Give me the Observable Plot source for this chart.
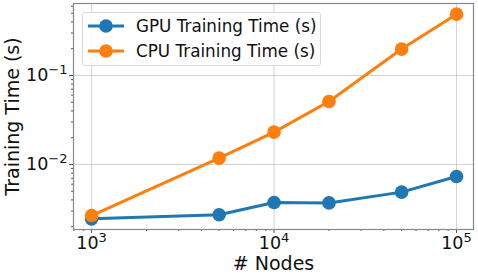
<!DOCTYPE html>
<html><head><meta charset="utf-8">
<script src="https://cdn.jsdelivr.net/npm/d3@7"></script>
<script src="https://cdn.jsdelivr.net/npm/@observablehq/plot@0.6"></script>
<style>
body{margin:0;background:#fff;font-family:"DejaVu Sans",sans-serif;}
#wrap{position:relative;width:478px;height:276px;}
#legend{position:absolute;left:82px;top:12px;width:239px;height:54px;border:1px solid #d8d8d8;border-radius:3px;background:rgba(255,255,255,0.85);box-sizing:border-box;font-size:16.8px;color:#111;}
.row{position:absolute;left:4px;height:20px;display:flex;align-items:center;white-space:nowrap;}
.row svg{margin-right:11px;}
</style></head><body>
<div id="wrap"></div>
<script>
const nodes = [1000, 5000, 10000, 20000, 50000, 100000];
const gpuTime = [0.00245, 0.00272, 0.00374, 0.0037, 0.00489, 0.00733];
const cpuTime = [0.00267, 0.0118, 0.0231, 0.051, 0.198, 0.489];
const seriesNames = ["GPU Training Time (s)", "CPU Training Time (s)"];
const seriesColors = ["#1f77b4", "#ff7f0e"];
const xTicks = [1e3, 1e4, 1e5];
const xTickExp = ["3", "4", "5"];
const yTicks = [1e-2, 1e-1];
const yTickExp = ["−2", "−1"];

const rows = [];
nodes.forEach((n, i) => {
  rows.push({series: seriesNames[0], n, t: gpuTime[i]});
  rows.push({series: seriesNames[1], n, t: cpuTime[i]});
});
const xMinor = [];
for (let d = 100; d <= 1e5; d *= 10) for (let k = 2; k <= 9; k++) { const v = d * k; if (v > 796 && v < 123900) xMinor.push(v); }
const yMinor = [];
for (let d = 0.001; d <= 0.1; d *= 10) for (let k = 2; k <= 9; k++) { const v = d * k; if (v > 0.00186 && v < 0.644) yMinor.push(v); }

const color = {domain: seriesNames, range: seriesColors};
const chart = Plot.plot({
  width: 478, height: 276,
  marginLeft: 73, marginRight: 5, marginTop: 3, marginBottom: 47,
  style: {fontFamily: "DejaVu Sans", fontSize: "17px", color: "#111", background: "#fff"},
  x: {type: "log", domain: [796, 123900]},
  y: {type: "log", domain: [0.00186, 0.644]},
  color,
  marks: [
    Plot.gridX(xTicks, {stroke: "#b0b0b0", strokeOpacity: 0.7, strokeWidth: 0.8}),
    Plot.gridY(yTicks, {stroke: "#b0b0b0", strokeOpacity: 0.7, strokeWidth: 0.8}),
    Plot.axisX(xMinor, {tickSize: 2, tickFormat: () => "", stroke: "#555", label: null}),
    Plot.axisY(yMinor, {tickSize: 2, tickFormat: () => "", stroke: "#555", label: null}),
    Plot.axisX(xTicks, {tickSize: 4, tickPadding: 3, stroke: "#555", fontSize: 17.5,
      tickFormat: d => "10^" + xTickExp[xTicks.indexOf(d)], label: "# Nodes", labelAnchor: "center", labelArrow: "none", labelOffset: 40}),
    Plot.axisY(yTicks, {tickSize: 4, tickPadding: 2, stroke: "#555", fontSize: 17.5,
      tickFormat: d => "10^" + yTickExp[yTicks.indexOf(d)], label: "Training Time (s)", labelAnchor: "center", labelArrow: "none", labelOffset: 68}),
    Plot.frame({stroke: "#888", strokeWidth: 1.2}),
    Plot.line(rows, {x: "n", y: "t", z: "series", stroke: "series", strokeWidth: 3}),
    Plot.dot(rows, {x: "n", y: "t", fill: "series", r: 6.8})
  ]
});
chart.querySelectorAll('[aria-label="x-axis label"] text, [aria-label="y-axis label"] text').forEach(t => t.setAttribute("font-size", "19"));
// render superscript exponents
chart.querySelectorAll('[aria-label="x-axis tick label"] text, [aria-label="y-axis tick label"] text').forEach(t => {
  const s = t.textContent;
  if (!s.includes("^")) return;
  const [base, exp] = s.split("^");
  t.textContent = "";
  const b = document.createElementNS("http://www.w3.org/2000/svg", "tspan");
  b.textContent = base;
  const e = document.createElementNS("http://www.w3.org/2000/svg", "tspan");
  e.textContent = exp;
  e.setAttribute("font-size", "13");
  e.setAttribute("dy", "-0.55em");
  t.appendChild(b); t.appendChild(e);
});
const wrap = document.getElementById("wrap");
wrap.appendChild(chart);

const legend = document.createElement("div");
legend.id = "legend";
seriesNames.forEach((name, i) => {
  const row = document.createElement("div");
  row.className = "row";
  row.style.top = (3 + i * 25) + "px";
  row.innerHTML = `<svg width="38" height="20"><line x1="1" x2="37" y1="10" y2="10" stroke="${seriesColors[i]}" stroke-width="3"/><circle cx="19" cy="10" r="6.8" fill="${seriesColors[i]}"/></svg><span>${name}</span>`;
  legend.appendChild(row);
});
wrap.appendChild(legend);
</script>
</body></html>
